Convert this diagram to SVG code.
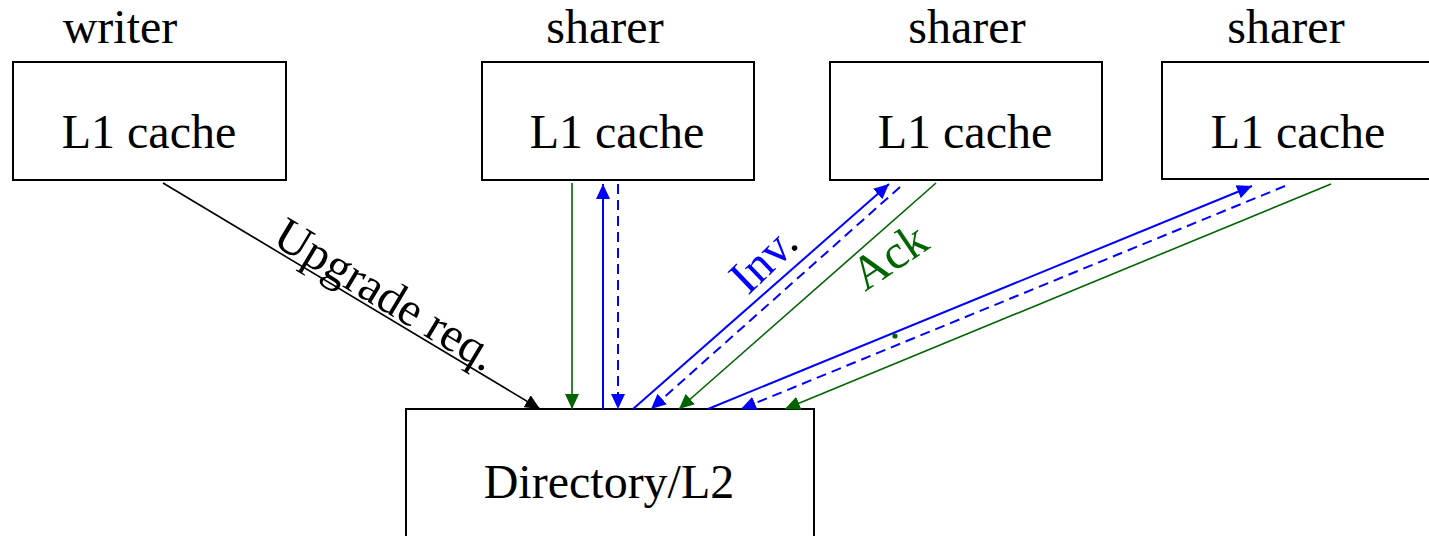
<svg xmlns="http://www.w3.org/2000/svg" width="1429" height="536" viewBox="0 0 1429 536">
  <style>
    .box { fill: #ffffff; stroke: #000000; stroke-width: 2; }
    .lbl { font-family: "Liberation Serif", "Times New Roman", serif; font-size: 48px; fill: #000000; }
    .mid { text-anchor: middle; }
    .blk { stroke: #000000; stroke-width: 1.6; fill: none; }
    .blu { stroke: #0000ff; stroke-width: 2; fill: none; }
    .dsh { stroke-dasharray: 10 6; }
    .grn { stroke: #006400; stroke-width: 1.6; fill: none; }
  </style>
  <defs>
    <marker id="ahBlack" markerUnits="userSpaceOnUse" markerWidth="15" markerHeight="14" refX="15" refY="7" orient="auto">
      <path d="M0,0 L15,7 L0,14 z" fill="#000000"/>
    </marker>
    <marker id="ahBlue" markerUnits="userSpaceOnUse" markerWidth="15" markerHeight="14" refX="15" refY="7" orient="auto">
      <path d="M0,0 L15,7 L0,14 z" fill="#0000ff"/>
    </marker>
    <marker id="ahGreen" markerUnits="userSpaceOnUse" markerWidth="15" markerHeight="14" refX="15" refY="7" orient="auto">
      <path d="M0,0 L15,7 L0,14 z" fill="#006400"/>
    </marker>
  </defs>

  <rect width="1429" height="536" fill="#ffffff"/>

  <!-- writer L1 -->
  <g id="writer">
    <text class="lbl mid" x="120" y="43">writer</text>
    <rect class="box" x="13" y="62" width="273" height="118"/>
    <text class="lbl mid" x="149" y="148">L1 cache</text>
  </g>

  <!-- sharer L1 caches -->
  <g id="sharer1">
    <text class="lbl mid" x="605" y="43">sharer</text>
    <rect class="box" x="482" y="62" width="272" height="118"/>
    <text class="lbl mid" x="617" y="148">L1 cache</text>
  </g>
  <g id="sharer2">
    <text class="lbl mid" x="967" y="43">sharer</text>
    <rect class="box" x="830" y="62" width="272" height="118"/>
    <text class="lbl mid" x="965" y="148">L1 cache</text>
  </g>
  <g id="sharer3">
    <text class="lbl mid" x="1286" y="43">sharer</text>
    <rect class="box" x="1162" y="62" width="290" height="117"/>
    <text class="lbl mid" x="1298" y="148">L1 cache</text>
  </g>

  <!-- directory -->
  <g id="directory">
    <rect class="box" x="406" y="409" width="408" height="150"/>
    <text class="lbl mid" x="609" y="498">Directory/L2</text>
  </g>

  <!-- messages -->
  <g id="connectors">
    <line class="blk" x1="163" y1="183" x2="540" y2="409" marker-end="url(#ahBlack)"/>

    <line class="grn" x1="572" y1="183" x2="572" y2="409" marker-end="url(#ahGreen)"/>
    <line class="blu" x1="603" y1="409" x2="603" y2="184" marker-end="url(#ahBlue)"/>
    <line class="blu dsh" x1="618" y1="184" x2="618" y2="409" marker-end="url(#ahBlue)"/>

    <line class="blu" x1="633" y1="409" x2="889" y2="184" marker-end="url(#ahBlue)"/>
    <line class="blu dsh" x1="900" y1="187" x2="651" y2="409" marker-end="url(#ahBlue)"/>
    <line class="grn" x1="936" y1="183" x2="679" y2="409" marker-end="url(#ahGreen)"/>

    <line class="blu" x1="708" y1="409" x2="1252" y2="186" marker-end="url(#ahBlue)"/>
    <line class="blu dsh" x1="1285" y1="186" x2="741" y2="409" marker-end="url(#ahBlue)"/>
    <line class="grn" x1="1331" y1="184" x2="785" y2="409" marker-end="url(#ahGreen)"/>

    <!-- labels -->
    <text class="lbl mid" transform="translate(378,308) rotate(31)">Upgrade req.</text>
    <text class="lbl" transform="translate(748,296) rotate(-44)"><tspan fill="#0000ff">Inv</tspan>.</text>
    <text class="lbl" style="fill:#006400" transform="translate(865,292) rotate(-34)">Ack</text>
    <circle cx="895" cy="336" r="2.6" fill="#006400"/>
  </g>
</svg>
